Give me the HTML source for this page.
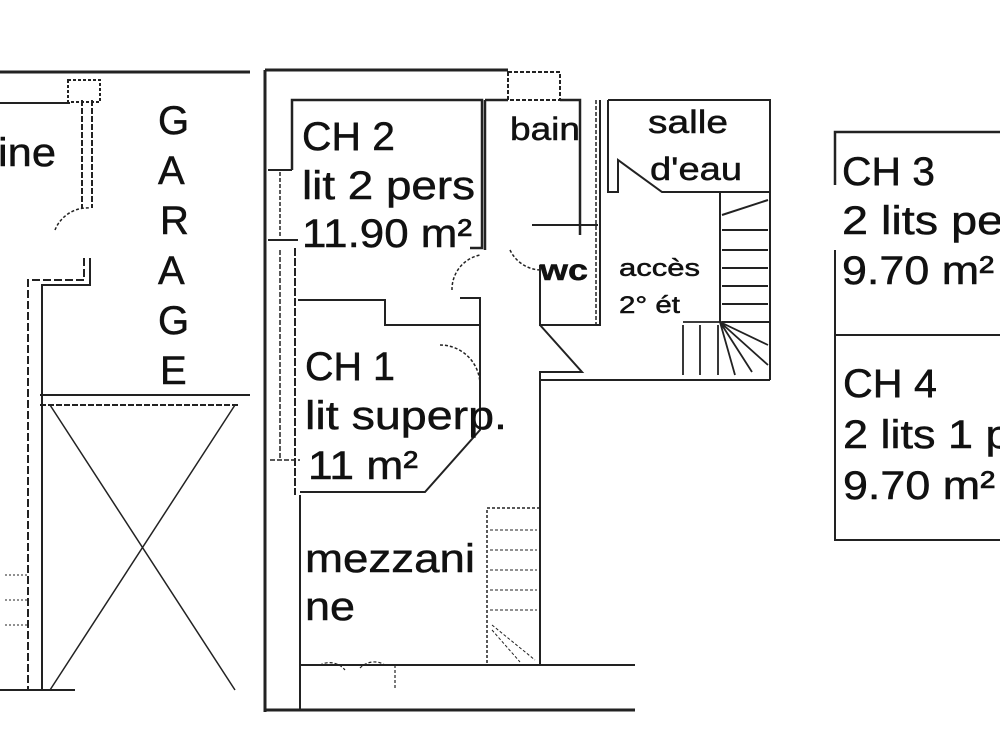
<!DOCTYPE html>
<html><head><meta charset="utf-8"><style>
html,body{margin:0;padding:0;background:#fff;width:1000px;height:750px;overflow:hidden}
svg{display:block}
text{font-family:"Liberation Sans",sans-serif;fill:#111;stroke:#111;stroke-width:0.5}
</style></head><body>
<svg width="1000" height="750" viewBox="0 0 1000 750">
<g stroke="#222" fill="none" stroke-width="3">
<line x1="0" y1="72" x2="250" y2="72"/>
<line x1="0" y1="103" x2="70" y2="103" stroke-width="2"/>
<rect x="68" y="80" width="32" height="22" stroke-width="2" stroke-dasharray="3 2"/>
<line x1="82" y1="100" x2="82" y2="208" stroke-width="2" stroke-dasharray="6 2"/>
<line x1="92" y1="100" x2="92" y2="208" stroke-width="2" stroke-dasharray="6 2"/>
<path d="M90 258 V285 H42 V690" stroke-width="2"/>
<path d="M84 258 V280 H28 V690" stroke-width="2" stroke-dasharray="8 3"/>
<path d="M55 230 A35 35 0 0 1 90 208" stroke-width="1.5" stroke-dasharray="3 2"/>
<line x1="40" y1="395" x2="250" y2="395" stroke-width="2"/>
<line x1="40" y1="405" x2="240" y2="405" stroke-width="2" stroke-dasharray="6 2"/>
<line x1="50" y1="405" x2="235" y2="690" stroke-width="1.5"/>
<line x1="235" y1="405" x2="50" y2="690" stroke-width="1.5"/>
<line x1="0" y1="690" x2="75" y2="690" stroke-width="2"/>
<path d="M5 575 L28 575 M5 600 L28 600 M5 625 L28 625" stroke-width="1" stroke-dasharray="2 2"/>
<line x1="265" y1="70" x2="508" y2="70"/>
<line x1="265" y1="70" x2="265" y2="712"/>
<line x1="265" y1="710" x2="635" y2="710"/>
<rect x="508" y="72" width="52" height="28" stroke-width="2" stroke-dasharray="4 2"/>
<path d="M292 170 V100 H482 V248 H470" stroke-width="2.5"/>
<path d="M268 170 H292" stroke-width="2"/>
<path d="M268 240 H298" stroke-width="2"/>
<line x1="280" y1="172" x2="280" y2="238" stroke-width="1.5" stroke-dasharray="4 2"/>
<path d="M295 248 V495" stroke-width="2" stroke-dasharray="8 2"/>
<path d="M280 250 V460 M270 460 H300" stroke-width="1.5" stroke-dasharray="5 2"/>
<path d="M452 290 A35 35 0 0 1 480 255" stroke-width="1.5" stroke-dasharray="3 2"/>
<path d="M298 300 H385 V325 H480 V298 H460" stroke-width="2"/>
<path d="M480 325 V430 L425 492 H300" stroke-width="2"/>
<path d="M440 345 A40 40 0 0 1 480 385" stroke-width="1.5" stroke-dasharray="3 2"/>
<path d="M485 100 H508 M560 100 H580 V235 M485 100 V250" stroke-width="2.5"/>
<line x1="532" y1="225" x2="598" y2="225" stroke-width="2"/>
<path d="M510 250 A35 35 0 0 0 540 270" stroke-width="1.5" stroke-dasharray="3 2"/>
<path d="M540 265 V325 H600 V100" stroke-width="2"/>
<line x1="596" y1="100" x2="596" y2="325" stroke-width="1.5" stroke-dasharray="4 2"/>
<path d="M608 100 H770 V380" stroke-width="2"/>
<path d="M608 100 V192 H618 V160 L662 192 H770" stroke-width="2"/>
<path d="M720 192 V322 M722 322 H770" stroke-width="2"/>
<path d="M722 215 L768 200 M722 230 H768 M722 250 H768 M722 268 H768 M722 286 H768 M722 304 H768" stroke-width="2"/>
<path d="M683 322 H722 M683 325 V375 M700 325 V375 M718 325 V375 M720 322 L735 375 M720 322 L752 372 M720 322 L768 365 M720 322 L768 345" stroke-width="1.8"/>
<path d="M540 325 L582 372 H540 V665" stroke-width="2"/>
<line x1="540" y1="380" x2="770" y2="380" stroke-width="2"/>
<rect x="487" y="508" width="53" height="157" stroke-width="1.5" stroke-dasharray="3 2"/>
<path d="M490 530 H537 M490 550 H537 M490 570 H537 M490 590 H537 M490 610 H537 M492 630 L520 662 M492 625 L535 660" stroke-width="1" stroke-dasharray="3 2"/>
<line x1="300" y1="665" x2="635" y2="665" stroke-width="2"/>
<path d="M320 665 A20 20 0 0 1 345 670 M360 668 A20 20 0 0 1 385 665 M395 665 V690" stroke-width="1.2" stroke-dasharray="3 2"/>
<line x1="300" y1="495" x2="300" y2="710" stroke-width="2"/>
<path d="M835 185 V132 H1000" stroke-width="2.5"/>
<path d="M835 250 V540 H1000" stroke-width="2"/>
<line x1="835" y1="335" x2="1000" y2="335" stroke-width="2"/>
</g>
<g font-size="40">
<text x="-2" y="166" textLength="58" lengthAdjust="spacingAndGlyphs">ine</text>
<text x="158" y="134">G</text><text x="158" y="184">A</text><text x="160" y="234">R</text>
<text x="158" y="284">A</text><text x="158" y="334">G</text><text x="160" y="384">E</text>
<text x="302" y="150" textLength="93" lengthAdjust="spacingAndGlyphs">CH 2</text>
<text x="302" y="199" textLength="173" lengthAdjust="spacingAndGlyphs">lit 2 pers</text>
<text x="302" y="247" textLength="170" lengthAdjust="spacingAndGlyphs">11.90 m²</text>
<text x="305" y="380" textLength="90" lengthAdjust="spacingAndGlyphs">CH 1</text>
<text x="305" y="429" textLength="202" lengthAdjust="spacingAndGlyphs">lit superp.</text>
<text x="308" y="479" textLength="110" lengthAdjust="spacingAndGlyphs">11 m²</text>
<text x="305" y="572" textLength="170" lengthAdjust="spacingAndGlyphs">mezzani</text>
<text x="305" y="620" textLength="50" lengthAdjust="spacingAndGlyphs">ne</text>
<text x="842" y="185" textLength="93" lengthAdjust="spacingAndGlyphs">CH 3</text>
<text x="842" y="234" textLength="200" lengthAdjust="spacingAndGlyphs">2 lits pers</text>
<text x="842" y="284" textLength="152" lengthAdjust="spacingAndGlyphs">9.70 m²</text>
<text x="843" y="397" textLength="94" lengthAdjust="spacingAndGlyphs">CH 4</text>
<text x="843" y="448" textLength="230" lengthAdjust="spacingAndGlyphs">2 lits 1 pers</text>
<text x="843" y="499" textLength="152" lengthAdjust="spacingAndGlyphs">9.70 m²</text>
</g>
<text x="510" y="140" font-size="32" textLength="70" lengthAdjust="spacingAndGlyphs">bain</text>
<text x="648" y="133" font-size="32" textLength="80" lengthAdjust="spacingAndGlyphs">salle</text>
<text x="650" y="180" font-size="32" textLength="92" lengthAdjust="spacingAndGlyphs">d'eau</text>
<text x="540" y="280" font-size="30" font-weight="bold" textLength="48" lengthAdjust="spacingAndGlyphs">wc</text>
<text x="619" y="276" font-size="24" textLength="81" lengthAdjust="spacingAndGlyphs">accès</text>
<text x="619" y="313" font-size="24" textLength="61" lengthAdjust="spacingAndGlyphs">2° ét</text>
</svg>
</body></html>
